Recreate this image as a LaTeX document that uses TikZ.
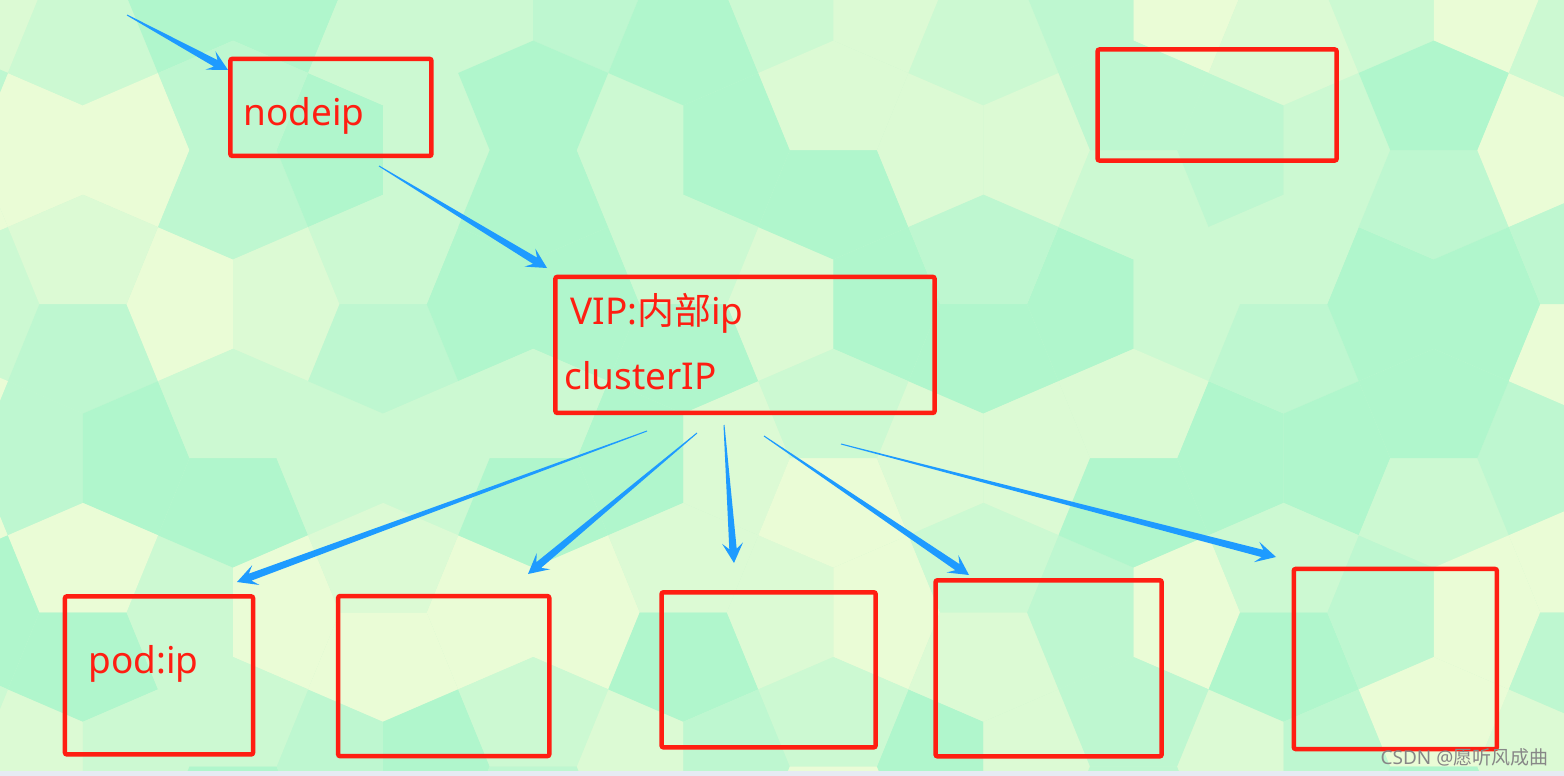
\documentclass[tikz,border=0pt]{standalone}
\usepackage{fontspec}
\setmainfont{Noto Sans}
\newfontfamily\cjk{Noto Sans CJK SC}
\usetikzlibrary{calc}

\definecolor{boxred}{RGB}{255,30,18}
\definecolor{arrowblue}{RGB}{30,155,255}
\definecolor{tileA}{RGB}{234,252,214}
\definecolor{tileB}{RGB}{220,250,212}
\definecolor{tileC}{RGB}{204,249,210}
\definecolor{tileD}{RGB}{190,247,208}
\definecolor{tileE}{RGB}{176,246,204}
\definecolor{markgray}{RGB}{135,135,135}
\definecolor{stripgray}{RGB}{230,235,243}

\pgfmathdeclarerandomlist{tiles}{{tileA}{tileB}{tileC}{tileD}{tileE}}
\def\notch{0.29}

\tikzset{
  redbox/.style={draw=boxred, line width=0.045cm, rounded corners=0.02cm, inner sep=0pt},
  redtext/.style={text=boxred, inner sep=0pt, anchor=base west,
    font=\fontsize{10.5pt}{12pt}\selectfont},
  marktext/.style={text=markgray, inner sep=0pt, anchor=base east,
    font=\fontsize{5.4pt}{6pt}\selectfont}
}

\newcommand{\thinwedge}[2]{%
  \coordinate (wj) at ($(#2)!0.14cm!(#1)$);
  \coordinate (wb) at ($(#2)!0.20cm!(#1)$);
  \fill[arrowblue] ($(#1)!0.005cm!90:(#2)$) -- ($(wj)!0.037cm!90:(#2)$)
    -- ($(wb)!0.105cm!90:(#2)$) -- (#2) -- ($(wb)!0.105cm!-90:(#2)$)
    -- ($(wj)!0.037cm!-90:(#2)$) -- ($(#1)!0.005cm!-90:(#2)$) -- cycle;
}

\begin{document}
\begin{tikzpicture}[x=0.01cm, y=-0.01cm]
  \useasboundingbox (0,0) rectangle (1564,776);

  \begin{scope}
    \clip (0,0) rectangle (1564,776);
    \fill[tileC] (0,0) rectangle (1564,776);
    \pgfmathsetseed{23}
    \begin{scope}[shift={(158,73)}, x=1.5cm, y=-1.54cm]
      \foreach \a in {-2,...,10}{
        \foreach \b in {-2,...,5}{
          \pgfmathtruncatemacro{\odd}{mod(\a+\b+40,2)}
          \ifnum\odd=0
            \begin{scope}[shift={(\a,\b)}]
              \pgfmathrandomitem{\tilecol}{tiles}
              \fill[\tilecol] (0,0) -- (0.5-\notch,0.5) -- (0,1) -- (-0.5,0.5+\notch) -- (-0.5,0.5-\notch) -- cycle;
              \pgfmathrandomitem{\tilecol}{tiles}
              \fill[\tilecol] (0,1) -- (\notch-0.5,1.5) -- (0,2) -- (0.5,1.5+\notch) -- (0.5,1.5-\notch) -- cycle;
              \pgfmathrandomitem{\tilecol}{tiles}
              \fill[\tilecol] (0,1) -- (0.5,1.5-\notch) -- (1,1) -- (0.5+\notch,0.5) -- (0.5-\notch,0.5) -- cycle;
              \pgfmathrandomitem{\tilecol}{tiles}
              \fill[\tilecol] (-1,1) -- (-0.5,0.5+\notch) -- (0,1) -- (\notch-0.5,1.5) -- (-0.5-\notch,1.5) -- cycle;
            \end{scope}
          \fi
        }
      }
    \end{scope}
    \fill[stripgray] (0,771) rectangle (1564,776);
  \end{scope}

  \begin{scope}[every node/.style={redbox}]
    \node[minimum width=2.01cm, minimum height=0.97cm] (nodeip) at (330.9,107.4) {};
    \node[minimum width=2.39cm, minimum height=1.11cm] (spare) at (1217.1,105) {};
    \node[minimum width=3.79cm, minimum height=1.36cm] (vip) at (745,344.9) {};
    \node[minimum width=1.88cm, minimum height=1.58cm] (poda) at (159,675.4) {};
    \node[minimum width=2.11cm, minimum height=1.60cm] (podb) at (443.7,676.1) {};
    \node[minimum width=2.14cm, minimum height=1.55cm] (podc) at (768.6,669.8) {};
    \node[minimum width=2.26cm, minimum height=1.76cm] (podd) at (1048.6,668.3) {};
    \node[minimum width=2.03cm, minimum height=1.80cm] (pode) at (1395.3,659) {};
  \end{scope}

  \node[redtext] (nodeiplabel) at (243,126) {nodeip};
  \node[redtext] (viplabel) at (570,324) {VIP:{\cjk 内部}ip};
  \node[redtext] (clusterlabel) at (564,389) {clusterIP};
  \node[redtext] (podlabel) at (88,673) {pod:ip};

  \coordinate (s1) at (127,15);
  \coordinate (t1) at (228,70);
  \coordinate (s2) at (379,166);
  \coordinate (t2) at (547,268);
  \coordinate (s3) at (647,431);
  \coordinate (t3) at (237,582);
  \coordinate (s4) at (697,433);
  \coordinate (t4) at (528,574);
  \coordinate (s5) at (724,425);
  \coordinate (t5) at (734,563);
  \coordinate (s6) at (764,436);
  \coordinate (t6) at (969,575);
  \coordinate (s7) at (841,444);
  \coordinate (t7) at (1276,557);

  \foreach \s/\t in {s1/t1, s2/t2, s3/t3, s4/t4, s5/t5, s6/t6, s7/t7}
    \thinwedge{\s}{\t};

  \node[marktext] (mark) at (1549,764) {CSDN @{\cjk 愿听风成曲}};

\end{tikzpicture}
\end{document}
